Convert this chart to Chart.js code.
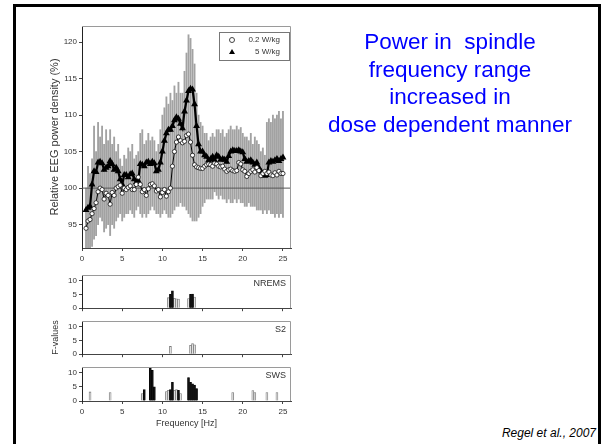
<!DOCTYPE html>
<html lang="en">
<head>
<meta charset="UTF-8">
<title>Power in spindle frequency range</title>
<style>
    body, html {
        margin: 0;
        padding: 0;
        width: 602px;
        height: 444px;
        overflow: hidden;
        background: #fff;
        font-family: 'Liberation Sans', Arial, sans-serif;
    }
    .slide-frame {
        position: absolute;
        left: 13px;
        top: 4px;
        width: 582px;
        height: 500px;
        border: 3px solid #000;
        border-bottom: none;
    }
    canvas { position: absolute; left: 0; }
    #mainChart { top: 0; }
    #nremsChart { top: 265px; }
    #s2Chart { top: 311px; }
    #swsChart { top: 357px; }
    .legend {
        position: absolute;
        left: 219px;
        top: 32px;
        width: 69px;
        height: 26px;
        padding-top: 1px;
        border: 1px solid #777;
        font-size: 8px;
        color: #333;
        background: #fff;
    }
    .legend .row {
        position: relative;
        height: 12px;
        line-height: 12px;
        text-align: right;
        padding-right: 9px;
    }
    .legend .dot {
        position: absolute; left: 9px; top: 3px;
        width: 4px; height: 4px;
        border: 1px solid #444; border-radius: 50%;
    }
    .legend .tri {
        position: absolute; left: 9px; top: 3px;
        width: 0; height: 0;
        border-left: 3px solid transparent;
        border-right: 3px solid transparent;
        border-bottom: 5px solid #000;
    }
    .headline {
        position: absolute;
        left: 300px;
        top: 28px;
        width: 300px;
        text-align: center;
        color: #0000ff;
        font-size: 22.5px;
        line-height: 27.5px;
    }
    .cite {
        position: absolute;
        right: 6px;
        top: 427px;
        font-size: 12px;
        line-height: 12px;
        font-style: italic;
        color: #000;
    }
</style>
<script src="https://cdn.jsdelivr.net/npm/chart.js"></script>
</head>
<body>
<div class="slide-frame"></div>

<canvas id="mainChart" width="300" height="270"></canvas>
<canvas id="nremsChart" width="300" height="50"></canvas>
<canvas id="s2Chart" width="300" height="50"></canvas>
<canvas id="swsChart" width="300" height="87"></canvas>

<div class="legend">
    <div class="row"><span class="dot"></span>0.2 W/kg</div>
    <div class="row"><span class="tri"></span>5 W/kg</div>
</div>

<div class="headline">Power in&nbsp; spindle<br>frequency range<br>increased in<br>dose dependent manner</div>
<div class="cite">Regel et al., 2007</div>

<script>
// frequency bins (Hz)
const freqs = [
    0.5, 0.75, 1, 1.25, 1.5, 1.75, 2, 2.25, 2.5, 2.75, 3, 3.25, 3.5, 3.75, 4, 4.25,
    4.5, 4.75, 5, 5.25, 5.5, 5.75, 6, 6.25, 6.5, 6.75, 7, 7.25, 7.5, 7.75, 8, 8.25,
    8.5, 8.75, 9, 9.25, 9.5, 9.75, 10, 10.25, 10.5, 10.75, 11, 11.25, 11.5, 11.75, 12, 12.25,
    12.5, 12.75, 13, 13.25, 13.5, 13.75, 14, 14.25, 14.5, 14.75, 15, 15.25, 15.5, 15.75, 16, 16.25,
    16.5, 16.75, 17, 17.25, 17.5, 17.75, 18, 18.25, 18.5, 18.75, 19, 19.25, 19.5, 19.75, 20, 20.25,
    20.5, 20.75, 21, 21.25, 21.5, 21.75, 22, 22.25, 22.5, 22.75, 23, 23.25, 23.5, 23.75, 24, 24.25,
    24.5, 24.75, 25
];

// relative EEG power density (%), 0.2 W/kg
const lowDose = [
    94.5, 95.5, 95.7, 96.5, 97.2, 98, 99.5, 100, 99.8, 98.5, 99.3, 99, 97.8, 99.4, 99, 100,
    100.2, 100.4, 99.3, 100, 99.8, 100.1, 100.3, 99.8, 99.8, 100.5, 101.5, 100.5, 99.5, 99.8, 99, 99.9,
    100.5, 100.6, 100.3, 99.6, 99.8, 98.8, 99.4, 99.8, 98.9, 99.5, 100, 103, 105, 106.3, 107, 106.5,
    106.2, 106.4, 107.2, 107.4, 106.3, 104.5, 103.2, 102.9, 102.8, 102.7, 102.7, 103, 103.2, 103.3, 103.2, 103,
    103.4, 103.3, 103, 102.9, 103, 102.6, 102.3, 102.5, 102.6, 102.4, 102.3, 102.4, 103.5, 103.3, 102.5, 102.3,
    101.6, 102, 102.3, 102.5, 102.2, 102.8, 102.4, 101.7, 102, 102.3, 102, 102.2, 101.8, 101.7, 102.1, 101.8,
    102.3, 102, 102
];

// relative EEG power density (%), 5 W/kg
const highDose = [
    97, 97.3, 97.5, 100.5, 102.3, 102.2, 103.5, 103.6, 103.4, 102.5, 102.8, 103, 103.7, 103.3, 102.5, 102.8,
    102.3, 101.2, 100.5, 101.8, 101.8, 101.5, 101.9, 102, 101.2, 100.8, 101, 103.3, 103.2, 103, 103.5, 103.6,
    103.3, 103.6, 103.4, 102.3, 102.5, 103.5, 105, 106.5, 107.5, 108, 108, 108.5, 109.3, 109.7, 109.5, 108.8,
    108.2, 110.5, 112, 113.3, 113.6, 113.5, 111.5, 108.5, 106, 105, 105, 104.5, 104.3, 103.8, 104, 104.3,
    103.8, 104.5, 104.3, 103.9, 104, 103.9, 103.6, 104.4, 105, 105.2, 105.1, 105.1, 105.2, 105, 104.9, 104,
    103.6, 103.7, 103.8, 103.5, 103.2, 103.5, 102.8, 102.3, 102, 101.7, 101.8, 103.5, 103.7, 103.6, 103.8, 104,
    103.7, 104, 104.2
];

// error bar ends (%)
const errHigh = [
    100, 103, 102, 104, 108.5, 105, 109, 107, 108.5, 106, 108, 106.5, 108, 106, 107, 105,
    106, 104, 103, 104.5, 104, 105.5, 105, 106, 104, 104.5, 105, 107.5, 108, 106, 106.5, 107.5,
    106.5, 107, 106.5, 105, 106, 108, 110, 111, 112.5, 111.5, 113, 112, 114, 113, 114.5, 113,
    113, 116, 118.5, 121, 120.5, 119, 117, 113, 110, 109, 108.5, 107.5, 107.5, 106.5, 107, 107.5,
    107, 108, 108, 107.5, 108, 107, 107.5, 108, 108.5, 108, 108, 108.5, 108, 108.3, 107.5, 107,
    107, 106.5, 107.5, 106, 107, 106.5, 106, 105, 105.5, 104.5, 109, 109.5, 109, 110, 109.5, 110,
    110.5, 109.5, 110.5
];
const errLow = [
    91.5, 91.5, 91.5, 92, 93, 93.5, 95, 96, 95.5, 94, 94.5, 95, 93.5, 95, 94.5, 95.5,
    96, 96.5, 95.5, 96, 96.5, 96.5, 97, 96.5, 96, 97, 97.5, 96.5, 96, 96.5, 96, 96.5,
    97, 97.5, 97, 96.5, 96.5, 96, 96.5, 97, 96.5, 96, 96, 96.5, 97, 97.5, 97.5, 98,
    97.5, 97.5, 97, 96.5, 96, 95.5, 95.5, 95.5, 96, 96.5, 97.5, 98, 98.5, 98.5, 98.5, 98.5,
    99.5, 99, 98.5, 99, 98.5, 98.5, 98, 98.5, 98, 98, 98.5, 98, 98.5, 98, 98, 97.5,
    97.5, 98, 97.5, 97.5, 97.5, 97, 97, 97, 96.5, 97, 96.5, 97, 96.5, 96.5, 96, 96.5,
    96, 96.5, 96
];
const baseline = 100;

// F-values per sleep stage (black = 5 W/kg, white = 0.2 W/kg)
const nremsBlackFreq = [11, 11.25, 13.5, 13.75];
const nremsBlackF    = [5.0, 6.3, 5.0, 5.1];
const nremsWhiteFreq = [10.75, 11.5, 11.75, 12, 13.25, 14];
const nremsWhiteF    = [3.8, 3.6, 3.4, 3.3, 3.5, 4.0];

const s2BlackFreq = [];
const s2BlackF    = [];
const s2WhiteFreq = [11, 13.5, 13.75, 14];
const s2WhiteF    = [2.8, 3.2, 3.8, 3.4];

const swsBlackFreq = [7.75, 8.5, 8.75, 9, 11, 11.25, 12, 13.25, 13.5, 13.75, 14, 14.25];
const swsBlackF    = [4.0, 11.5, 10.8, 5.0, 4.0, 6.6, 3.8, 8.3, 6.6, 6.1, 5.6, 4.4];
const swsWhiteFreq = [1, 3.5, 7.5, 10.5, 10.75, 11.5, 11.75, 12.25, 18.75, 21.25, 21.5, 23, 24.25];
const swsWhiteF    = [3.2, 3.0, 2.6, 3.3, 3.8, 3.8, 4.0, 2.6, 3.0, 3.7, 3.0, 3.0, 3.0];

const xMin = 0, xMax = 26;
const xTicks = [0, 5, 10, 15, 20, 25];

Chart.defaults.font.family = "'Liberation Sans', Arial, sans-serif";
Chart.defaults.color = '#333';
Chart.defaults.animation = false;

const framePlugin = {
    id: 'frame',
    afterDraw(chart, args, opts) {
        const { ctx, chartArea: a } = chart;
        ctx.save();
        ctx.strokeStyle = '#9a9a9a';
        ctx.lineWidth = 1;
        ctx.beginPath();
        ctx.moveTo(a.left, a.top + 0.5);
        ctx.lineTo(a.right - 0.5, a.top + 0.5);
        ctx.lineTo(a.right - 0.5, a.bottom);
        ctx.stroke();
        if (opts.label) {
            ctx.fillStyle = '#333';
            ctx.font = "9px 'Liberation Sans', Arial, sans-serif";
            ctx.textAlign = 'right';
            ctx.textBaseline = 'middle';
            ctx.fillText(opts.label, a.right - 5, a.top + 9);
        }
        ctx.restore();
    }
};

function xAxis(showLabels, height) {
    return {
        type: 'linear',
        min: xMin,
        max: xMax,
        offset: false,
        afterBuildTicks: s => { s.ticks = xTicks.map(v => ({ value: v })); },
        afterFit: s => { s.height = height; },
        grid: { offset: false, drawOnChartArea: false, tickLength: 3, color: '#444' },
        border: { color: '#444' },
        ticks: { display: showLabels, font: { size: 8 }, padding: 3, maxRotation: 0 }
    };
}

function yAxis(min, max, step, title) {
    return {
        min: min,
        max: max,
        beginAtZero: false,
        afterFit: s => { s.width = 37; },
        grid: { drawOnChartArea: false, tickLength: 3, color: '#444' },
        border: { color: '#222' },
        ticks: { stepSize: step, includeBounds: false, font: { size: 8 }, padding: 2 },
        title: { display: !!title, text: title || '', font: { size: 11 }, padding: { top: 3, bottom: 4 } }
    };
}

// main spectrum
new Chart(document.getElementById('mainChart'), {
    type: 'line',
    data: {
        datasets: [
            {
                label: '0.2 W/kg',
                data: freqs.map((f, i) => ({ x: f, y: lowDose[i] })),
                borderColor: '#000',
                borderWidth: 1,
                pointStyle: 'circle',
                pointRadius: 2.1,
                pointBackgroundColor: '#fff',
                pointBorderColor: '#111',
                pointBorderWidth: 0.8,
                order: 1
            },
            {
                label: '5 W/kg',
                data: freqs.map((f, i) => ({ x: f, y: highDose[i] })),
                borderColor: '#000',
                borderWidth: 2.2,
                pointStyle: 'triangle',
                pointRadius: 1.8,
                pointBackgroundColor: '#000',
                pointBorderColor: '#000',
                order: 2
            },
            {
                label: 'baseline',
                data: [{ x: xMin, y: baseline }, { x: xMax, y: baseline }],
                borderColor: '#555',
                borderWidth: 1,
                pointRadius: 0,
                order: 3
            },
            {
                type: 'bar',
                label: 'error',
                data: freqs.map((f, i) => ({ x: f, y: [errLow[i], errHigh[i]] })),
                backgroundColor: '#a2a2a2',
                barThickness: 1.2,
                order: 4
            }
        ]
    },
    options: {
        responsive: false,
        events: [],
        layout: { padding: { left: 45, right: 9, top: 26, bottom: 0 } },
        scales: {
            x: xAxis(true, 22),
            y: yAxis(91.8, 122.2, 5, 'Relative EEG power density (%)')
        },
        plugins: { legend: { display: false }, tooltip: { enabled: false }, frame: {} }
    },
    plugins: [framePlugin]
});

function fPanel(id, label, blackFreq, blackF, whiteFreq, whiteF, bottom) {
    const yOpts = yAxis(0, 12, 5, label === 'S2' ? 'F-values' : '');
    yOpts.title.font = { size: 9 };
    yOpts.title.padding = { top: 5, bottom: 4 };
    new Chart(document.getElementById(id), {
        type: 'bar',
        data: {
            datasets: [
                {
                    label: '5 W/kg',
                    data: blackFreq.map((f, i) => ({ x: f, y: blackF[i] })),
                    backgroundColor: '#111',
                    borderColor: '#000',
                    borderWidth: 0.6,
                    barPercentage: 1,
                    categoryPercentage: 1,
                    grouped: false
                },
                {
                    label: '0.2 W/kg',
                    data: whiteFreq.map((f, i) => ({ x: f, y: whiteF[i] })),
                    backgroundColor: '#e2e2e2',
                    borderColor: '#7a7a7a',
                    borderWidth: 0.8,
                    barPercentage: 1,
                    categoryPercentage: 1,
                    grouped: false
                }
            ]
        },
        options: {
            responsive: false,
            events: [],
            layout: { padding: { left: 45, right: 9, top: 10, bottom: bottom ? 11 : 0 } },
            scales: {
                x: bottom
                    ? Object.assign(xAxis(true, 32), { title: { display: true, text: 'Frequency [Hz]', font: { size: 9 } } })
                    : xAxis(false, 4),
                y: yOpts
            },
            plugins: { legend: { display: false }, tooltip: { enabled: false }, frame: { label: label } }
        },
        plugins: [framePlugin]
    });
}

fPanel('nremsChart', 'NREMS', nremsBlackFreq, nremsBlackF, nremsWhiteFreq, nremsWhiteF, false);
fPanel('s2Chart', 'S2', s2BlackFreq, s2BlackF, s2WhiteFreq, s2WhiteF, false);
fPanel('swsChart', 'SWS', swsBlackFreq, swsBlackF, swsWhiteFreq, swsWhiteF, true);
</script>
</body>
</html>
